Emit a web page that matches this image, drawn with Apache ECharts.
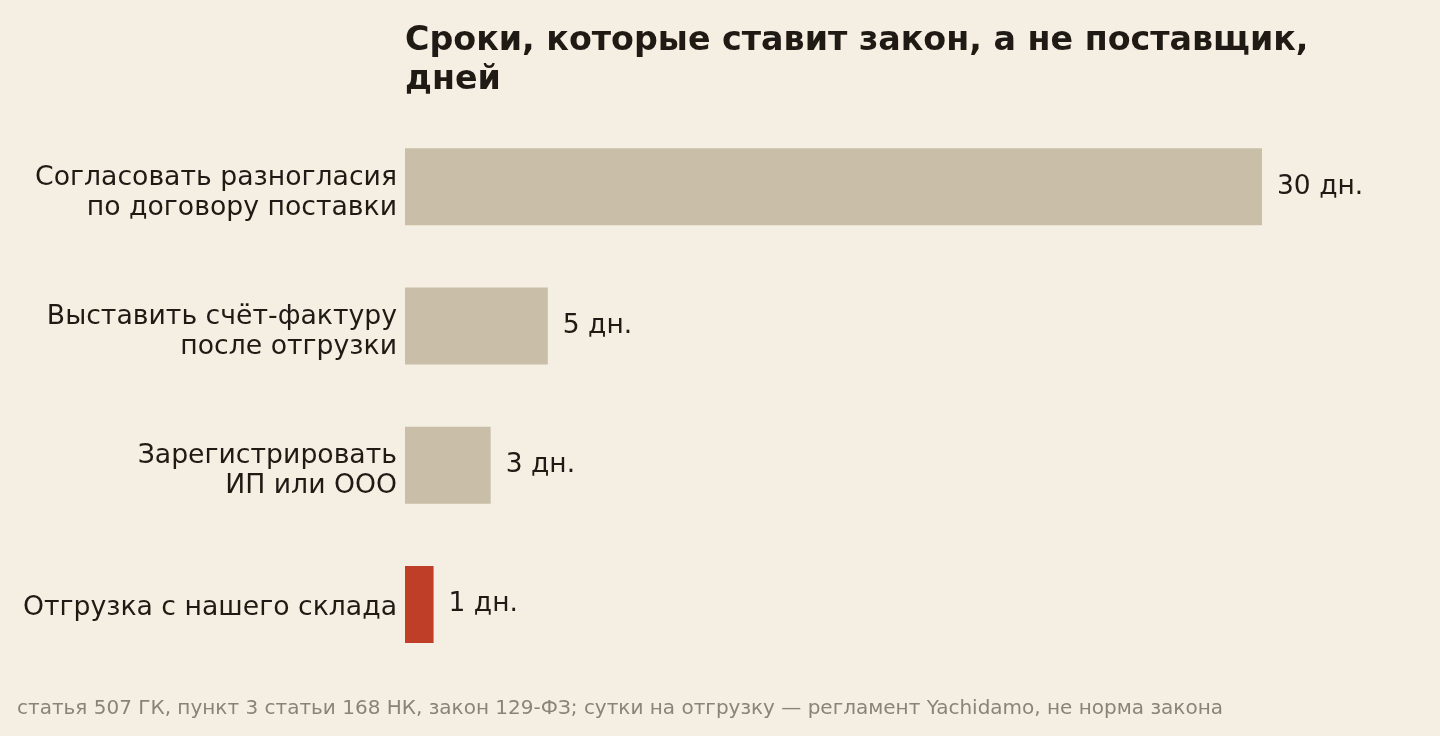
<!DOCTYPE html>
<html><head><meta charset="utf-8">
<script src="https://cdn.jsdelivr.net/npm/echarts@6/dist/echarts.min.js"></script>
<style>html,body{margin:0;padding:0;background:#f5efe3;}#c{width:1440px;height:736px;}</style>
</head><body><div id="c"></div>
<script>
var categories = ["Согласовать разногласия\nпо договору поставки", "Выставить счёт-фактуру\nпосле отгрузки", "Зарегистрировать\nИП или ООО", "Отгрузка с нашего склада"];
var days = [30, 5, 3, 1];
var highlight = [false, false, false, true];
var titleText = "Сроки, которые ставит закон, а не поставщик,\nдней";
var footnote = "статья 507 ГК, пункт 3 статьи 168 НК, закон 129-ФЗ; сутки на отгрузку — регламент Yachidamo, не норма закона";

var labelFont = {fontFamily: 'DejaVu Sans', fontSize: 26.7, color: '#1f1a14', lineHeight: 30, align: 'right'};
function rich(extra) { var o = {}; for (var k in labelFont) o[k] = labelFont[k]; for (var k2 in extra) o[k2] = extra[k2]; return o; }

var chart = echarts.init(document.getElementById('c'));
chart.setOption({
  backgroundColor: '#f5efe3',
  animation: false,
  title: {
    text: titleText, left: 405, top: 22, padding: 0,
    textStyle: {fontFamily: 'DejaVu Sans', fontSize: 33.3, fontWeight: 'bold', color: '#1f1a14', lineHeight: 39}
  },
  graphic: [{
    type: 'text', left: 17, top: 699,
    style: {text: footnote, font: '20px "DejaVu Sans"', fill: '#8a8478'}
  }],
  grid: {left: 405, right: 178, top: 117, height: 557, containLabel: false},
  xAxis: {type: 'value', min: 0, max: 30, show: false},
  yAxis: {
    type: 'category', data: categories, inverse: true,
    axisLine: {show: false}, axisTick: {show: false},
    axisLabel: {
      margin: 8, align: 'right', fontFamily: 'DejaVu Sans', fontSize: 26.7, color: '#1f1a14', lineHeight: 30,
      formatter: function (v) {
        var lines = v.split('\n');
        if (lines.length === 1) return '{s|' + lines[0] + '}';
        return '{f|' + lines[0] + '}\n{n|' + lines.slice(1).join('}\n{n|') + '}';
      },
      rich: {
        f: rich({padding: [12, 0, 0, 0]}),
        n: rich({padding: [12, 0, 0, 0]}),
        s: rich({padding: [8, 0, 0, 0]})
      }
    }
  },
  series: [{
    type: 'bar', barWidth: 77,
    data: days.map(function(v, i){ return {value: v, itemStyle: {color: highlight[i] ? '#be3e28' : '#c9bfa8'}}; }),
    label: {show: true, position: 'right', distance: 15, formatter: '{c} дн.', fontFamily: 'DejaVu Sans', fontSize: 26.5, color: '#1f1a14'}
  }]
});
</script></body></html>
